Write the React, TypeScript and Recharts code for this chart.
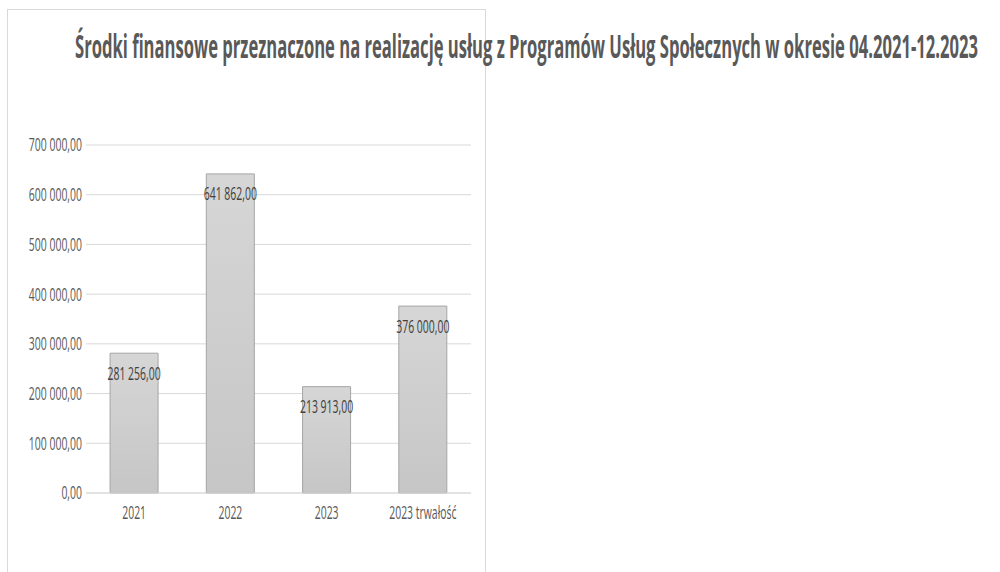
import React, { useLayoutEffect, useRef, useState } from 'react';
import { BarChart, Bar, XAxis, YAxis, CartesianGrid, LabelList } from 'recharts';

const categories = ['2021', '2022', '2023', '2023 trwałość'];
const amounts = [281256, 641862, 213913, 376000];
const yTicks = [0, 100000, 200000, 300000, 400000, 500000, 600000, 700000];

const title = 'Środki finansowe przeznaczone na realizację usług z Programów Usług Społecznych w okresie 04.2021-12.2023';

const data = categories.map((name, i) => ({ name, value: amounts[i] }));

const FONT = '"Open Sans", sans-serif';
const SQUEEZE = 0.58;

const fmt = (v: number) => {
    const [int, dec] = v.toFixed(2).split('.');
    return int.replace(/\B(?=(\d{3})+(?!\d))/g, ' ') + ',' + dec;
};

const YTick: React.FC<any> = ({ x, y, payload }) => (
    <text
        transform={`translate(${x + 4},${y}) scale(${SQUEEZE},1)`}
        textAnchor="end"
        dy="0.36em"
        fill="#595959"
        fontSize={18}
        fontFamily={FONT}
    >
        {fmt(payload.value)}
    </text>
);

const XTick: React.FC<any> = ({ x, y, payload }) => (
    <text
        transform={`translate(${x},${y + 12}) scale(${SQUEEZE},1)`}
        textAnchor="middle"
        dy="0.36em"
        fill="#595959"
        fontSize={18}
        fontFamily={FONT}
    >
        {payload.value}
    </text>
);

const BarLabel: React.FC<any> = ({ x, y, width, value }) => (
    <text
        transform={`translate(${x + width / 2},${y + 20}) scale(${SQUEEZE},1)`}
        textAnchor="middle"
        dy="0.36em"
        fill="#404040"
        fontSize={18}
        fontFamily={FONT}
    >
        {fmt(value)}
    </text>
);

// title squeezed to span x 75..978 like the original
const Title: React.FC = () => {
    const ref = useRef<SVGTextElement>(null);
    const [sx, setSx] = useState(0.5);
    useLayoutEffect(() => {
        if (ref.current) {
            const w = ref.current.getComputedTextLength();
            if (w > 0) setSx(903 / w);
        }
    }, []);
    return (
        <svg width={1000} height={100} style={{ position: 'absolute', left: 0, top: 0 }}>
            <text
                ref={ref}
                transform={`translate(75,58) scale(${sx},1)`}
                fill="#595959"
                fontSize={33}
                fontWeight={700}
                fontFamily={FONT}
            >
                {title}
            </text>
        </svg>
    );
};

const App: React.FC = () => {
    return (
        <div style={{ position: 'absolute', left: 0, top: 0, width: 1000, height: 572, background: '#fff', overflow: 'hidden' }}>
            <div
                style={{
                    position: 'absolute',
                    left: 7,
                    top: 9,
                    width: 479,
                    height: 620,
                    border: '1px solid #d9d9d9',
                    boxSizing: 'border-box',
                }}
            />
            <Title />
            <div style={{ position: 'absolute', left: 0, top: 0 }}>
                <BarChart
                    width={1000}
                    height={572}
                    data={data}
                    margin={{ top: 145, right: 529, left: 8, bottom: 49 }}
                    barCategoryGap="25%"
                >
                    <defs>
                        <linearGradient id="barFill" x1="0" y1="0" x2="0" y2="1">
                            <stop offset="0%" stopColor="#d6d6d6" />
                            <stop offset="100%" stopColor="#c6c6c6" />
                        </linearGradient>
                    </defs>
                    <CartesianGrid vertical={false} stroke="#d9d9d9" />
                    <XAxis
                        dataKey="name"
                        height={30}
                        tickLine={false}
                        axisLine={{ stroke: '#d9d9d9' }}
                        tick={<XTick />}
                        interval={0}
                    />
                    <YAxis
                        width={78}
                        domain={[0, 700000]}
                        ticks={yTicks}
                        tickLine={false}
                        axisLine={false}
                        tick={<YTick />}
                        interval={0}
                    />
                    <Bar dataKey="value" fill="url(#barFill)" stroke="#a5a5a5" strokeWidth={1} isAnimationActive={false}>
                        <LabelList dataKey="value" content={<BarLabel />} />
                    </Bar>
                </BarChart>
            </div>
        </div>
    );
};

export default App;
